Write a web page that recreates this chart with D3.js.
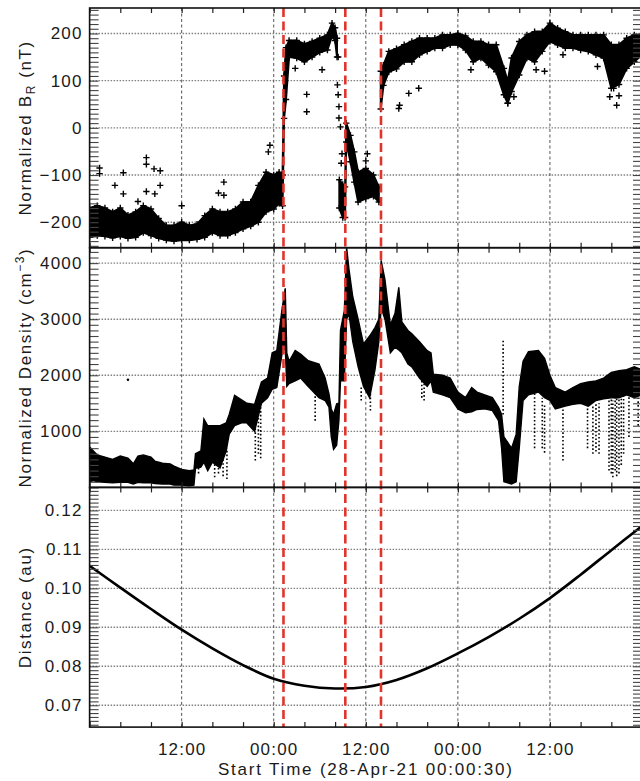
<!DOCTYPE html>
<html>
<head>
<meta charset="utf-8">
<script src="https://cdn.jsdelivr.net/npm/d3@7"></script>
<style>
  html, body { margin: 0; padding: 0; background: #fff; }
  svg text { font-family: "Liberation Sans", Arial, sans-serif; fill: #1a1a1a; }
</style>
</head>
<body>
<svg id="chart" width="640" height="781"></svg>
<script>
// ---- time axis (hours after 28-Apr-21 00:00:30) ----
const xTickHours  = [12, 24, 36, 48, 60];
const xTickLabels = ["12:00", "00:00", "12:00", "00:00", "12:00"];
const eventHours  = [25.27, 33.33, 37.98];

// ---- panel 1: normalized radial field, spread of the point cloud (nT) ----
const brHours = [0,1,2,3,4,5,6,7,8,9,10,11,12,13,14,15,16,17,18,19,20,21,22,23,24,24.7,25.15,
  25.35,25.6,26,27,28,29,30,31,31.6,32,32.25,32.4,
  32.55,33.0,33.3,33.45,34,34.5,35,36,37,37.7,37.8,
  37.95,38.3,39,40,41,42,43,44,45,46,47,48,49,50,51,52,53,54,54.5,55,56,57,58,59,60,61,62,63,64,65,66,67,68,69,70,71,72];
const brLow = [-232,-228,-230,-233,-230,-234,-232,-222,-228,-234,-238,-240,-238,-238,-236,-232,-222,-228,-228,-222,-214,-208,-200,-178,-172,-160,-165,
  20,60,150,148,140,150,160,165,195,185,150,null,
  -170,-190,-190,-30,-72,-115,-157,-150,-145,-157,null,
  40,90,119,125,140,140,155,162,169,169,176,176,165,140,148,133,119,70,52,77,112,148,140,162,183,176,169,169,165,162,155,148,84,92,126,140,155];
const brHigh = [-170,-165,-170,-178,-170,-185,-178,-165,-172,-192,-207,-207,-200,-207,-204,-186,-172,-178,-178,-172,-157,-157,-122,-94,-100,-94,-100,
  110,170,185,185,178,183,190,197,222,212,190,null,
  -110,-120,-125,10,-16,-51,-94,-86,-100,-125,null,
  120,133,162,168,176,183,190,190,190,197,197,200,195,183,183,176,176,126,98,148,183,197,204,204,222,211,204,197,197,197,197,197,176,176,190,197,197];
const brOutHours  = [1.3,1.3,3.3,4.4,4.4,6.3,7.4,7.4,8.4,9.2,9.2,7.4,8.5,12.0,17.5,16.8,17.5,23.5,23.3,
  26.8,28.3,28.3,30.3,32.3,32.4,32.5,32.5,32.4,32.9,32.8,32.7,36.2,36.0,40.3,40.4,41.6,42.9,
  49.7,54.5,55.3,58.2,59.3,61.7,66.2,67.8,68.7,68.3,69.0];
const brOutValues = [-85,-97,-122,-95,-140,-156,-63,-77,-87,-91,-122,-135,-140,-165,-115,-138,-143,-37,-51,
  126,71,34,123,91,70,45,21,150,-55,-75,2,-55,-70,41,48,73,84,
  123,52,66,123,120,155,130,66,48,84,68];
const brTicks = [-200, -100, 0, 100, 200];

// ---- panel 2: normalized density, spread of the samples (cm^-3) ----
const densHours = [0,0.5,1,2,3,4,5,5.7,6.3,7,8,8.5,9.5,10.5,11,12,13,13.6,13.8,14.5,14.9,15.4,16,17,17.8,18.2,18.9,19.8,20.5,21.5,22.4,23.2,23.8,24.4,25.1,25.5,
  25.7,26,26.8,27.5,28.5,29.9,30.7,31.2,31.5,31.8,32.2,32.5,32.7,33.2,33.5,33.8,34.3,35,35.7,36.5,37.2,37.7,38,38.5,39.2,39.8,40.3,40.7,41.5,42,43,44,44.5,44.8,46,47,
  48,49,49.8,50.5,51.5,52.5,53.3,53.7,54,55,55.6,56,56.5,57.2,58.5,59.3,60,60.7,62,63,64,65,66,67,68,69,70,71,72];
const densLow = [100,120,100,90,80,90,90,60,90,80,80,70,60,60,40,40,30,40,340,360,450,300,450,350,650,950,1100,1150,1150,1000,1500,1600,1750,1780,2400,2500,
  1800,1850,1900,1950,1800,1600,1550,1430,900,680,750,1200,1900,1900,3000,3100,2600,2150,1800,1600,2100,2600,3200,3000,2400,2500,2450,2400,2200,2150,1950,1800,1900,1700,1650,1600,
  1400,1330,1350,1390,1400,1370,1190,700,100,60,100,700,1550,1650,1700,1600,1550,1400,1450,1480,1500,1450,1550,1580,1600,1600,1650,1600,1650];
const densHigh = [720,650,580,540,500,560,520,420,560,580,540,470,430,420,380,320,300,310,600,650,1220,1100,1100,1100,1150,1300,1640,1560,1500,1480,1880,1950,2400,2440,3200,3550,
  2400,2250,2440,2380,2260,2200,1950,1670,1400,1300,1490,1500,2800,3150,4280,3900,3400,3000,2560,2700,2850,3000,4050,3700,2900,3100,3570,2950,2800,2740,2600,2440,2400,2020,2000,1950,
  1700,1600,1780,1700,1650,1600,1430,1300,900,700,950,1800,2250,2420,2440,2300,2000,1780,1700,1780,1850,1880,1900,1950,2050,2080,2100,2150,2100];
const densSpikeHours = [14.2,16.3,16.8,17.4,17.9,21.6,22.0,22.3,29.4,35.4,36.6,43.3,43.6,53.9,58.0,59.0,59.3,61.7,64.9,65.6,66.0,66.4,67.7,68.0,68.2,68.5,68.7,69.0,69.3,69.6,70.3,71.5];
const densSpikeLow  = [250,180,250,200,150,480,600,520,1190,1550,1370,1600,1550,1300,700,700,620,480,700,600,640,600,300,250,180,300,200,250,400,600,900,1100];
const densSpikeHigh = [400,600,500,600,700,1100,1300,1500,1700,1800,1700,1900,1850,2620,1700,1600,1500,1400,1500,1450,1500,1500,1550,1600,1550,1600,1600,1600,1600,1650,1650,1600];
const densDotHours  = [5.0];
const densDotValues = [1920];
const densTicks = [1000, 2000, 3000, 4000];

// ---- panel 3: heliocentric distance (au) ----
const distHours = [0,4,8,12,16,20,24,28,32,36,40,44,48,52,56,60,64,68,72];
const distAU    = [0.1058,0.1002,0.0947,0.0894,0.0846,0.0803,0.0768,0.0750,0.0743,0.0747,0.0765,0.0795,0.0833,0.0875,0.0922,0.0975,0.1035,0.1098,0.1160];
const distTicks = [0.07, 0.08, 0.09, 0.10, 0.11, 0.12];

// ---------------------------------------------------------------
const svg = d3.select("#chart");
const left = 89.6, right = 642;
const panelH = 239.7;
const tops = [8, 8 + panelH, 8 + 2 * panelH];
const FONT = '"Liberation Sans", Arial, sans-serif';

const x = d3.scaleLinear().domain([0, 72]).range([left, right]);
const yBR   = d3.scaleLinear().domain([-254, 254]).range([tops[0] + panelH, tops[0]]);
const yDens = d3.scaleLinear().domain([0, 4275]).range([tops[1] + panelH, tops[1]]);
const yDist = d3.scaleLinear().domain([0.0644, 0.1259]).range([tops[2] + panelH, tops[2]]);

const panels = [
  { y: yBR,   ticks: brTicks,   minor: d3.range(-250, 251, 10),  fmt: d => d < 0 ? "\u2212" + Math.abs(d) : String(d) },
  { y: yDens, ticks: densTicks, minor: d3.range(0, 4276, 100),   fmt: d => String(d) },
  { y: yDist, ticks: distTicks, minor: d3.range(0.065, 0.1259, 0.001), fmt: d3.format(".2f") }
];

svg.append("defs").selectAll("clipPath").data(tops).join("clipPath")
  .attr("id", (d, i) => "clip" + i)
  .append("rect").attr("x", left).attr("y", d => d).attr("width", right - left).attr("height", panelH);

// grid lines
panels.forEach((p, i) => {
  const g = svg.append("g");
  g.selectAll("line.h").data(p.ticks).join("line")
    .attr("x1", left).attr("x2", right)
    .attr("y1", d => p.y(d)).attr("y2", d => p.y(d))
    .attr("stroke", "#808080").attr("stroke-width", 1.4).attr("stroke-dasharray", "1.5,1.5");
  g.selectAll("line.v").data(xTickHours).join("line")
    .attr("x1", d => x(d)).attr("x2", d => x(d))
    .attr("y1", tops[i]).attr("y2", tops[i] + panelH)
    .attr("stroke", "#555").attr("stroke-width", 1).attr("stroke-dasharray", "3,2.5");
});

// panel 1: B_R cloud of "+" samples
const brData = brHours.map((t, i) => ({ t, lo: brLow[i], hi: brHigh[i] }));
const gBR = svg.append("g").attr("clip-path", "url(#clip0)");
gBR.append("path").datum(brData)
  .attr("d", d3.area().defined(d => d.lo !== null)
    .x(d => x(d.t)).y0(d => yBR(d.lo)).y1(d => yBR(d.hi)))
  .attr("fill", "#000").attr("stroke", "#000").attr("stroke-width", 2).attr("stroke-linejoin", "round");
const crossPath = "M-3.2,0H3.2M0,-3.2V3.2";
const brEdge = brData.filter(d => d.lo !== null)
  .flatMap(d => [[d.t, d.lo], [d.t, d.hi]]);
const brOut = brOutHours.map((t, i) => [t, brOutValues[i]]);
gBR.selectAll("path.plus").data(brEdge.concat(brOut)).join("path")
  .attr("class", "plus")
  .attr("transform", d => `translate(${x(d[0])},${yBR(d[1])})`)
  .attr("d", crossPath).attr("stroke", "#000").attr("stroke-width", 1.4).attr("fill", "none");

// panel 2: density samples
const densData = densHours.map((t, i) => ({ t, lo: densLow[i], hi: densHigh[i] }));
const gD = svg.append("g").attr("clip-path", "url(#clip1)");
gD.append("path").datum(densData)
  .attr("d", d3.area().x(d => x(d.t)).y0(d => yDens(d.lo)).y1(d => yDens(d.hi)))
  .attr("fill", "#000").attr("stroke", "#000").attr("stroke-width", 1.4);
gD.selectAll("line.sp").data(densSpikeHours.map((t, i) => [t, densSpikeLow[i], densSpikeHigh[i]])).join("line")
  .attr("x1", d => x(d[0])).attr("x2", d => x(d[0]))
  .attr("y1", d => yDens(d[1])).attr("y2", d => yDens(d[2]))
  .attr("stroke", "#000").attr("stroke-width", 1.6).attr("stroke-dasharray", "1.6,2.2");
gD.selectAll("circle").data(densDotHours.map((t, i) => [t, densDotValues[i]])).join("circle")
  .attr("cx", d => x(d[0])).attr("cy", d => yDens(d[1])).attr("r", 1.3).attr("fill", "#000");

// panel 3: distance
svg.append("g").attr("clip-path", "url(#clip2)").append("path")
  .datum(distHours.map((t, i) => [t, distAU[i]]))
  .attr("d", d3.line().x(d => x(d[0])).y(d => yDist(d[1])).curve(d3.curveCatmullRom))
  .attr("fill", "none").attr("stroke", "#000").attr("stroke-width", 2.6);

// event markers across all panels
svg.append("g").selectAll("line").data(eventHours).join("line")
  .attr("x1", d => x(d)).attr("x2", d => x(d))
  .attr("y1", tops[0]).attr("y2", tops[2] + panelH)
  .attr("stroke", "#e0352c").attr("stroke-width", 2.6).attr("stroke-dasharray", "9,4.5");

// axes: ticks and frames
const xMinor = d3.range(0, 73, 4);
panels.forEach((p, i) => {
  const top = tops[i], bot = top + panelH;
  svg.append("g").attr("transform", `translate(0,${top})`)
    .call(d3.axisTop(x).tickValues(xMinor).tickSize(-5).tickFormat(""))
    .call(g => g.select(".domain").remove())
    .selectAll("line").attr("stroke", "#222").attr("stroke-width", 1.2);
  svg.append("g").attr("transform", `translate(0,${bot})`)
    .call(d3.axisBottom(x).tickValues(xMinor).tickSize(-5).tickFormat(""))
    .call(g => g.select(".domain").remove())
    .selectAll("line").attr("stroke", "#222").attr("stroke-width", 1.2);
  svg.append("g").attr("transform", `translate(${left},0)`)
    .call(d3.axisLeft(p.y).tickValues(p.minor).tickSize(-9).tickFormat(""))
    .call(g => g.select(".domain").remove())
    .selectAll("line").attr("stroke", "#444").attr("stroke-width", 1.1);
  svg.append("g").attr("transform", `translate(${right},0)`)
    .call(d3.axisRight(p.y).tickValues(p.minor).tickSize(-9).tickFormat(""))
    .call(g => g.select(".domain").remove())
    .selectAll("line").attr("stroke", "#444").attr("stroke-width", 1.1);
  const lab = svg.append("g").attr("transform", `translate(${left},0)`)
    .call(d3.axisLeft(p.y).tickValues(p.ticks).tickSize(0).tickPadding(7).tickFormat(p.fmt));
  lab.select(".domain").remove();
  lab.selectAll("text").attr("font-size", 17).attr("letter-spacing", 1.2)
    .style("font-family", FONT).attr("fill", "#1a1a1a");
  svg.append("rect").attr("x", left).attr("y", top).attr("width", right - left).attr("height", panelH)
    .attr("fill", "none").attr("stroke", "#111").attr("stroke-width", 1.6);
});

// time labels under the bottom panel
const xl = svg.append("g").attr("transform", `translate(0,${tops[2] + panelH})`)
  .call(d3.axisBottom(x).tickValues(xTickHours).tickSize(0).tickPadding(16)
    .tickFormat((d, i) => xTickLabels[i]));
xl.select(".domain").remove();
xl.selectAll("text").attr("font-size", 17).attr("letter-spacing", 1.2)
  .style("font-family", FONT).attr("fill", "#1a1a1a");

svg.append("text").attr("x", (left + right) / 2).attr("y", 775)
  .attr("text-anchor", "middle").attr("font-size", 17).attr("letter-spacing", 1.8)
  .text("Start Time (28-Apr-21 00:00:30)");

// y titles
function yTitle(cy, build) {
  const t = svg.append("text").attr("transform", `translate(31,${cy}) rotate(-90)`)
    .attr("text-anchor", "middle").attr("font-size", 17).attr("letter-spacing", 1.6);
  build(t);
}
yTitle(tops[0] + panelH / 2, t => {
  t.append("tspan").text("Normalized B");
  t.append("tspan").attr("font-size", 12).attr("dy", 4).text("R");
  t.append("tspan").attr("dy", -4).text(" (nT)");
});
yTitle(tops[1] + panelH / 2, t => {
  t.append("tspan").text("Normalized Density (cm");
  t.append("tspan").attr("font-size", 12).attr("dy", -7).text("\u22123");
  t.append("tspan").attr("dy", 7).text(")");
});
yTitle(tops[2] + panelH / 2, t => t.text("Distance (au)"));
</script>
</body>
</html>
